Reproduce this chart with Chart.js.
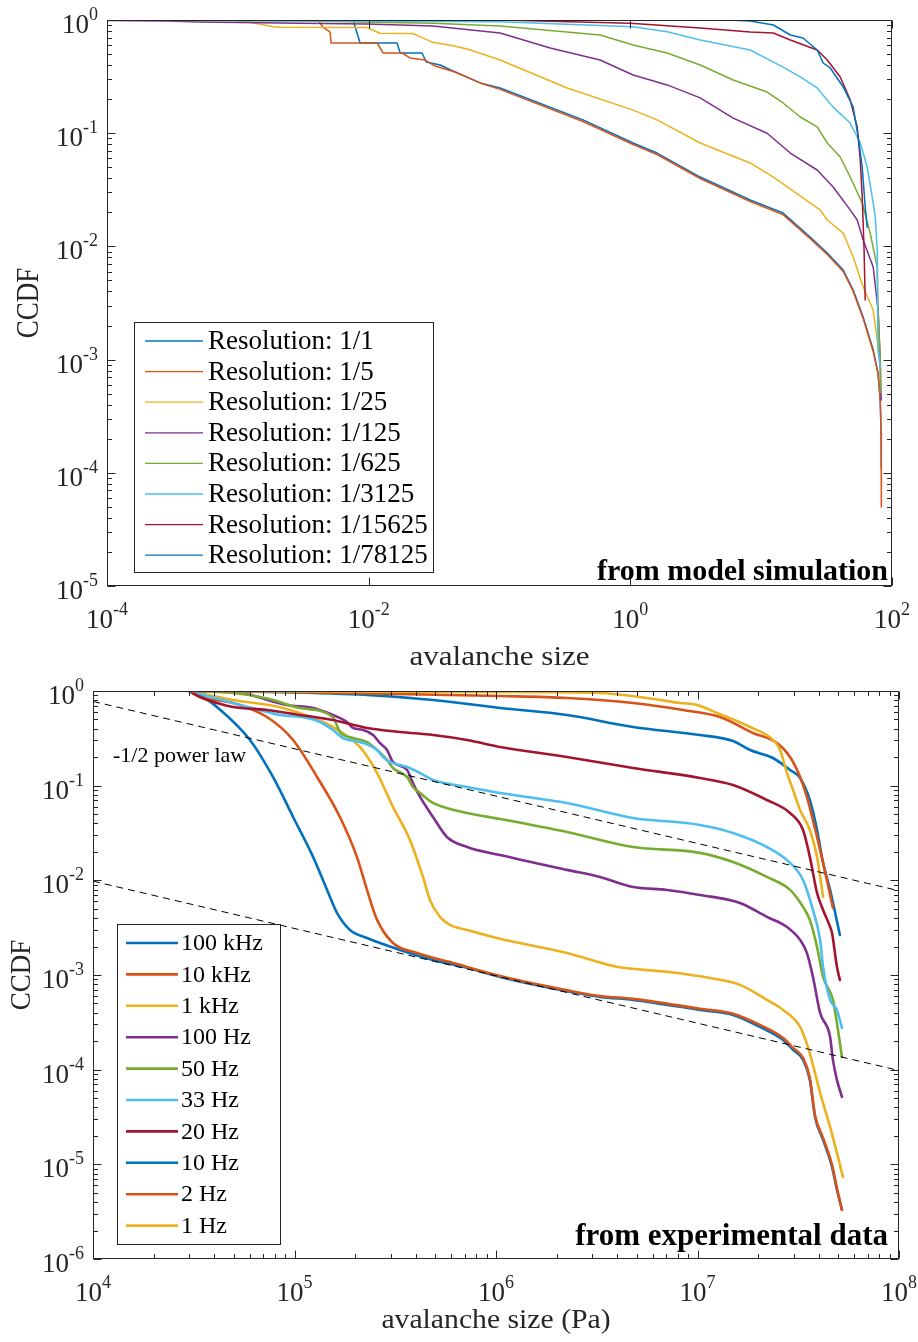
<!DOCTYPE html>
<html>
<head>
<meta charset="utf-8">
<script src="https://cdn.jsdelivr.net/npm/chart.js@4.4.1/dist/chart.umd.min.js"></script>
<style>
  html, body { margin: 0; padding: 0; background: #ffffff; }
  #page { position: relative; width: 918px; height: 1342px; overflow: hidden; }
  .panel { position: absolute; left: 0; }
</style>
</head>
<body>
<div id="page">
  <div class="panel" style="top:0"><canvas id="simChart" width="918" height="670"></canvas></div>
  <div class="panel" style="top:670px"><canvas id="expChart" width="918" height="672"></canvas></div>
</div>
<script>
// ---------- model simulation: CCDF of avalanche size, [size, CCDF] ----------
const simLabels = ['Resolution: 1/1', 'Resolution: 1/5', 'Resolution: 1/25', 'Resolution: 1/125',
                   'Resolution: 1/625', 'Resolution: 1/3125', 'Resolution: 1/15625', 'Resolution: 1/78125'];

const simRes1 = [[1e-4,1],[7.6e-3,1],[8.6e-3,0.627],[0.0165,0.627],[0.0174,0.511],[0.0256,0.511],[0.0275,0.425],
  [0.0352,0.40],[0.0458,0.347],[0.0711,0.278],[0.101,0.251],[0.435,0.131],[1.05,0.0819],[1.60,0.0668],[3.42,0.041],
  [8.24,0.0257],[14.7,0.0197],[23.7,0.0121],[32,8.74e-3],[42.4,6.19e-3],[50.5,4.12e-3],[60.2,2.38e-3],[71.8,1.22e-3],
  [78.3,7.6e-4],[81.3,4.4e-4],[82.6,2.25e-4],[82.8,1.1e-4]];
const simRes5 = [[1e-4,1],[4.1e-3,1],[4.48e-3,0.867],[5.07e-3,0.783],[5.16e-3,0.627],[0.0116,0.627],[0.0129,0.511],
  [0.018,0.511],[0.0207,0.462],[0.027,0.443],[0.0322,0.392],[0.0458,0.347],[0.0711,0.278],[0.101,0.244],[0.435,0.127],
  [1.05,0.0795],[1.60,0.0648],[3.42,0.0398],[8.24,0.0249],[14.7,0.0191],[23.7,0.0117],[32,8.5e-3],[42.4,6.0e-3],
  [50.5,4.0e-3],[60.2,2.3e-3],[71.8,1.18e-3],[78.3,7.4e-4],[81.3,4.3e-4],[82.6,2.2e-4],[82.9,5e-5]];
const simRes25 = [[1e-4,1],[8.7e-4,1],[1.24e-3,0.954],[1.86e-3,0.873],[2.1e-3,0.862],[9.7e-3,0.859],[0.0122,0.763],
  [0.0218,0.76],[0.0256,0.698],[0.031,0.635],[0.0442,0.593],[0.0565,0.554],[0.0711,0.508],[0.101,0.443],[0.329,0.251],
  [1.05,0.160],[1.60,0.131],[3.42,0.0819],[8.24,0.0546],[12.4,0.041],[28.2,0.021],[32,0.0171],[42.4,0.0131],
  [50.5,8.06e-3],[60.2,4.38e-3],[71.8,2.74e-3],[77.1,1.49e-3],[81.3,8.6e-4]];
const simRes125 = [[1e-4,0.99],[2.88e-4,0.98],[5.14e-4,0.96],[2.99e-3,0.935],[9.7e-3,0.922],[0.031,0.885],[0.101,0.768],
  [0.244,0.566],[0.587,0.443],[1.05,0.327],[1.91,0.267],[3.42,0.205],[6.11,0.136],[11.1,0.1],[16.7,0.0668],
  [26.8,0.0473],[35.5,0.0335],[47.9,0.021],[54.2,0.0171],[60.2,0.0114],[71.8,6.58e-3],[78.3,2.74e-3],[81.3,9.9e-4],
  [82.6,4.4e-4]];
const simRes625 = [[1e-4,1],[2.99e-3,0.98],[0.031,0.935],[0.101,0.885],[0.587,0.737],[1.05,0.601],[1.91,0.511],
  [3.42,0.40],[6.11,0.295],[11.1,0.231],[14.7,0.185],[19.9,0.139],[26.8,0.1135],[32,0.0819],[40.2,0.0616],
  [47.9,0.041],[59.2,0.0242],[68.1,0.0131],[77.1,6.58e-3],[78.3,2.74e-3],[81.3,9.9e-4],[81.5,5.07e-4]];
const simRes3125 = [[1e-4,1],[0.101,0.966],[1.05,0.873],[1.91,0.788],[3.42,0.666],[8.24,0.543],[14.7,0.384],
  [19.9,0.314],[26.8,0.251],[35.5,0.170],[47.9,0.123],[57.2,0.0819],[64.6,0.0503],[71.8,0.0242],[74.5,0.0182],
  [77.1,9.3e-3],[77.4,3.36e-3],[78.3,1.22e-3],[81.3,8.6e-4]];
const simRes15625 = [[1e-4,1],[0.101,1],[1.0,0.935],[3.42,0.85],[8.24,0.783],[12.4,0.767],[16.7,0.666],[26.8,0.543],
  [32,0.443],[40.2,0.314],[47.9,0.197],[54.2,0.1135],[57.2,0.058],[59.2,0.0273],[61.2,9.3e-3],[62.4,3.36e-3]];
const simRes78125 = [[1e-4,1],[5.5,1],[8.24,0.98],[12.4,0.903],[16.7,0.737],[20.9,0.693],[26.8,0.543],[29.8,0.417],
  [33.7,0.377],[42.4,0.256],[50.5,0.170],[55.2,0.0925],[59.2,0.0503],[62.4,0.0223],[64.6,0.0148]];

// ---------- experimental data: CCDF of avalanche size (Pa), [size, CCDF] ----------
const expLabels = ['100 kHz', '10 kHz', '1 kHz', '100 Hz', '50 Hz', '33 Hz', '20 Hz', '10 Hz', '2 Hz', '1 Hz'];

const exp100kHz = [[3.0e4,1],[3.4e4,0.907],[4.12e4,0.678],[6.01e4,0.304],[7.82e4,0.1236],[9.84e4,0.0467],
  [1.236e5,0.0177],[1.50e5,6.68e-3],[1.625e5,4.53e-3],[1.885e5,2.99e-3],[2.29e5,2.46e-3],[3.34e5,1.84e-3],
  [4.87e5,1.44e-3],[7.18e5,1.19e-3],[1.047e6,9.55e-4],[1.855e6,7.31e-4],[3.28e6,5.87e-4],[4.79e6,5.46e-4],
  [1.028e7,4.28e-4],[1.50e7,3.79e-4],[2.04e7,2.83e-4],[2.66e7,2.06e-4],[2.98e7,1.62e-4],[3.34e7,1.27e-4],
  [3.61e7,7.8e-5],[3.83e7,3.17e-5],[4.20e7,1.815e-5],[4.65e7,9.41e-6],[4.92e7,5.38e-6],[5.21e7,3.31e-6]];
const exp10kHz = [[3.0e4,1],[3.4e4,0.864],[4.95e4,0.747],[7.30e4,0.531],[9.84e4,0.304],[1.294e5,0.1236],
  [1.68e5,0.0467],[2.04e5,0.0177],[2.29e5,7.92e-3],[2.57e5,3.82e-3],[3.08e5,2.18e-3],[4.05e5,1.71e-3],
  [5.91e5,1.37e-3],[1.047e6,9.78e-4],[1.855e6,7.5e-4],[3.28e6,6.0e-4],[4.79e6,5.6e-4],[1.028e7,4.4e-4],
  [1.50e7,3.9e-4],[2.04e7,2.97e-4],[2.66e7,2.16e-4],[2.98e7,1.7e-4],[3.34e7,1.33e-4],[3.61e7,8.2e-5],
  [3.83e7,3.3e-5],[4.20e7,1.9e-5],[4.65e7,9.9e-6],[4.92e7,5.6e-6],[5.21e7,3.3e-6]];
const exp1kHz = [[3.0e4,1],[4.95e4,0.803],[8.77e4,0.661],[1.55e5,0.417],[2.11e5,0.2564],[2.57e5,0.136],
  [3.08e5,0.0596],[3.74e5,0.0267],[4.34e5,0.01086],[4.70e5,6.21e-3],[5.27e5,4.11e-3],[5.91e5,3.38e-3],
  [7.18e5,2.99e-3],[1.047e6,2.41e-3],[2.25e6,1.71e-3],[3.98e6,1.22e-3],[7.06e6,1.08e-3],[1.153e7,9.31e-4],
  [1.625e7,7.86e-4],[2.21e7,5.46e-4],[2.66e7,4.28e-4],[3.23e7,2.83e-4],[3.53e7,1.74e-4],[3.83e7,9.25e-5],
  [4.06e7,5.69e-5],[4.55e7,2.49e-5],[4.92e7,1.32e-5],[5.27e7,7.38e-6]];
const exp100Hz = [[3.0e4,1],[5.36e4,0.953],[9.18e4,0.711],[1.236e5,0.661],[1.55e5,0.558],[1.82e5,0.471],
  [1.95e5,0.407],[2.19e5,0.388],[2.455e5,0.343],[2.65e5,0.2825],[2.88e5,0.238],[3.08e5,0.178],[3.62e5,0.1465],
  [3.87e5,0.1068],[4.20e5,0.076],[4.87e5,0.0467],[5.71e5,0.0287],[7.18e5,0.0225],[1.047e6,0.0185],
  [2.25e6,0.0129],[3.28e6,0.01086],[4.79e6,8.51e-3],[7.06e6,7.92e-3],[1.028e7,7.01e-3],[1.625e7,5.77e-3],
  [2.21e7,4.11e-3],[2.78e7,3.22e-3],[3.23e7,2.35e-3],[3.49e7,1.71e-3],[3.74e7,9.55e-4],[4.06e7,3.98e-4],
  [4.55e7,2.22e-4],[4.70e7,1.27e-4],[4.92e7,7.8e-5],[5.21e7,5.16e-5]];
const exp50Hz = [[3.0e4,1],[4.95e4,0.953],[6.75e4,0.864],[7.82e4,0.803],[1.064e5,0.661],[1.55e5,0.531],
  [1.68e5,0.369],[1.95e5,0.319],[2.29e5,0.289],[2.57e5,0.238],[2.88e5,0.187],[3.08e5,0.1538],[3.62e5,0.1236],
  [3.87e5,0.0969],[4.20e5,0.0837],[4.87e5,0.0657],[7.18e5,0.0515],[1.047e6,0.0445],[2.25e6,0.0324],
  [4.79e6,0.0225],[1.028e7,0.0195],[1.50e7,0.0156],[2.21e7,0.01086],[2.88e7,7.92e-3],[3.34e7,5.24e-3],
  [3.61e7,3.82e-3],[3.92e7,1.98e-3],[4.20e7,9.55e-4],[4.70e7,5.46e-4],[4.92e7,3.12e-4],[5.21e7,1.36e-4]];
const exp33Hz = [[3.0e4,1],[4.95e4,0.747],[7.30e4,0.600],[8.47e4,0.558],[1.153e5,0.519],[1.338e5,0.471],
  [1.55e5,0.388],[1.74e5,0.319],[2.19e5,0.2825],[2.57e5,0.238],[2.75e5,0.201],[2.98e5,0.178],[3.62e5,0.1576],
  [4.20e5,0.136],[4.87e5,0.115],[7.18e5,0.0969],[1.047e6,0.0837],[2.25e6,0.0657],[4.79e6,0.0456],
  [1.028e7,0.0385],[1.50e7,0.0317],[2.21e7,0.0225],[2.88e7,0.0153],[3.34e7,0.0101],[3.74e7,4.87e-3],
  [4.06e7,2.35e-3],[4.20e7,1.22e-3],[4.55e7,5.46e-4],[4.92e7,4.28e-4],[5.21e7,2.76e-4]];
const exp20Hz = [[3.0e4,1],[3.4e4,0.864],[4.12e4,0.747],[4.95e4,0.678],[7.30e4,0.630],[1.064e5,0.558],
  [1.55e5,0.494],[2.29e5,0.407],[3.34e5,0.369],[4.87e5,0.343],[7.18e5,0.304],[1.047e6,0.2564],[2.25e6,0.201],
  [4.79e6,0.1538],[1.028e7,0.1206],[1.50e7,0.1017],[2.21e7,0.0706],[2.88e7,0.0515],[3.34e7,0.0340],
  [3.61e7,0.0177],[3.92e7,7.36e-3],[4.20e7,4.87e-3],[4.55e7,3.22e-3],[4.65e7,2.79e-3],[4.92e7,1.22e-3],
  [5.09e7,8.87e-4]];
const exp10Hz = [[3.0e4,1],[7.30e4,0.976],[2.29e5,0.907],[4.87e5,0.803],[1.047e6,0.661],[2.25e6,0.558],
  [4.79e6,0.417],[1.028e7,0.343],[1.50e7,0.2965],[1.824e7,0.238],[2.37e7,0.196],[2.88e7,0.1465],[3.23e7,0.1206],
  [3.61e7,0.0706],[3.92e7,0.0340],[4.20e7,0.0153],[4.55e7,7.92e-3],[5.09e7,2.65e-3]];
const exp2Hz = [[3.0e4,1],[7.30e4,0.99],[1.047e6,0.885],[2.25e6,0.844],[4.79e6,0.747],[8.47e6,0.630],
  [1.294e7,0.531],[1.885e7,0.360],[2.48e7,0.2825],[2.88e7,0.201],[3.23e7,0.1236],[3.49e7,0.076],[3.92e7,0.0287],
  [4.20e7,0.0153],[4.70e7,5.11e-3]];
const exp1Hz = [[3.0e4,1],[1.047e6,0.976],[3.28e6,0.953],[5.61e6,0.844],[8.19e6,0.747],[9.95e6,0.711],
  [1.25e7,0.586],[1.824e7,0.417],[2.37e7,0.304],[2.57e7,0.238],[2.78e7,0.136],[2.98e7,0.0901],[3.23e7,0.0554],
  [3.61e7,0.0340],[3.92e7,0.0177],[4.20e7,6.68e-3]];

// -1/2 power-law guide lines, [size, CCDF]
const powerLawUpper = [[1e4,0.776],[1e8,7.76e-3]];
const powerLawLower = [[1e4,0.0098],[1e8,9.8e-5]];

// tick label exponents (labels read 10^n)
const simXTickExp = [-4, -2, 0, 2];
const simYTickExp = [0, -1, -2, -3, -4, -5];
const expXTickExp = [4, 5, 6, 7, 8];
const expYTickExp = [0, -1, -2, -3, -4, -5, -6];

// ---------- styling ----------
const SERIF = '"Liberation Serif", "Times New Roman", Times, serif';
const AXIS_COLOR = '#262626';
const palette = ['#0072BD', '#D95319', '#EDB120', '#7E2F8E', '#77AC30', '#4DBEEE', '#A2142F',
                 '#0072BD', '#D95319', '#EDB120'];

function toXY(pts) { return pts.map(p => ({ x: p[0], y: p[1] })); }

function curveSets(labels, series, width, smooth) {
  return series.map((pts, i) => ({
    label: labels[i],
    data: toXY(pts),
    borderColor: palette[i],
    backgroundColor: palette[i],
    borderWidth: width,
    pointRadius: 0,
    tension: smooth ? 0.4 : 0,
    cubicInterpolationMode: smooth ? 'monotone' : 'default',
    fill: false,
    borderJoinStyle: 'round',
    borderCapStyle: 'round',
    order: 100 - i            // later series are painted on top
  }));
}

function guideSet(pts) {
  return {
    label: '', data: toXY(pts), borderColor: '#000000', borderWidth: 1, borderDash: [7, 5],
    pointRadius: 0, tension: 0, fill: false, order: 0
  };
}

// "10" with a raised exponent
function drawPow(ctx, exp, x, y, align, st) {
  const base = '10', sup = String(exp);
  ctx.font = st.base + 'px ' + SERIF;
  const wb = ctx.measureText(base).width;
  ctx.font = st.sup + 'px ' + SERIF;
  const ws = ctx.measureText(sup).width;
  const total = wb + ws;
  const x0 = align === 'center' ? x - total / 2 : (align === 'right' ? x - total : x);
  ctx.textAlign = 'left';
  ctx.textBaseline = 'alphabetic';
  ctx.font = st.base + 'px ' + SERIF;
  ctx.fillText(base, x0, y);
  ctx.font = st.sup + 'px ' + SERIF;
  ctx.fillText(sup, x0 + wb, y - st.rise);
}

// horizontal text with an optional width stretch
function stretchedText(ctx, text, x, y, font, sx, align) {
  ctx.save();
  ctx.font = font;
  ctx.textAlign = align;
  ctx.textBaseline = 'alphabetic';
  ctx.translate(x, y);
  ctx.scale(sx, 1);
  ctx.fillText(text, 0, 0);
  ctx.restore();
}

function makeFramePlugin(cfg) {
  return {
    id: 'frame_' + cfg.name,
    afterDraw(chart) {
      const { ctx, chartArea: a } = chart;
      const xs = chart.scales.x, ys = chart.scales.y;
      const L = Math.round(a.left) + 0.5, R = Math.round(a.right) - 0.5;
      const T = Math.round(a.top) + 0.5, B = Math.round(a.bottom) - 0.5;
      ctx.save();

      // legend box
      const lg = cfg.legend;
      ctx.fillStyle = '#ffffff';
      ctx.fillRect(lg.x, lg.y, lg.w, lg.h);
      ctx.strokeStyle = AXIS_COLOR;
      ctx.lineWidth = 1;
      ctx.strokeRect(lg.x + 0.5, lg.y + 0.5, lg.w, lg.h);
      ctx.font = lg.font + 'px ' + SERIF;
      ctx.textAlign = 'left';
      ctx.textBaseline = 'middle';
      for (let i = 0; i < lg.count; i++) {
        const ds = chart.data.datasets[i];
        const yy = lg.firstY + i * lg.rowH;
        ctx.strokeStyle = ds.borderColor;
        ctx.lineWidth = lg.lineWidth;
        ctx.beginPath();
        ctx.moveTo(lg.x0, yy);
        ctx.lineTo(lg.x1, yy);
        ctx.stroke();
        ctx.fillStyle = '#000000';
        ctx.fillText(ds.label, lg.textX, yy + 1);
      }

      // ticks (inward, on all four sides)
      ctx.strokeStyle = AXIS_COLOR;
      ctx.lineWidth = 1;
      const MAJ = 8, MIN = 4.5;
      ctx.beginPath();
      const xExp = cfg.xTicks, yExp = cfg.yTicks;
      xExp.forEach(e => {
        const px = Math.round(xs.getPixelForValue(Math.pow(10, e))) + 0.5;
        ctx.moveTo(px, B); ctx.lineTo(px, B - MAJ);
        ctx.moveTo(px, T); ctx.lineTo(px, T + MAJ);
      });
      if (cfg.xMinor) {
        const lo = Math.min(...xExp), hi = Math.max(...xExp);
        for (let e = lo; e < hi; e++) {
          for (let m = 2; m <= 9; m++) {
            const px = Math.round(xs.getPixelForValue(m * Math.pow(10, e))) + 0.5;
            ctx.moveTo(px, B); ctx.lineTo(px, B - MIN);
            ctx.moveTo(px, T); ctx.lineTo(px, T + MIN);
          }
        }
      }
      yExp.forEach(e => {
        const py = Math.round(ys.getPixelForValue(Math.pow(10, e))) + 0.5;
        ctx.moveTo(L, py); ctx.lineTo(L + MAJ, py);
        ctx.moveTo(R, py); ctx.lineTo(R - MAJ, py);
      });
      {
        const lo = Math.min(...yExp), hi = Math.max(...yExp);
        for (let e = lo; e < hi; e++) {
          for (let m = 2; m <= 9; m++) {
            const py = Math.round(ys.getPixelForValue(m * Math.pow(10, e))) + 0.5;
            ctx.moveTo(L, py); ctx.lineTo(L + MIN, py);
            ctx.moveTo(R, py); ctx.lineTo(R - MIN, py);
          }
        }
      }
      ctx.stroke();
      ctx.strokeRect(L, T, R - L, B - T);

      // tick labels
      ctx.fillStyle = AXIS_COLOR;
      const st = { base: 27, sup: 18, rise: 13 };
      xExp.forEach(e => {
        drawPow(ctx, e, xs.getPixelForValue(Math.pow(10, e)), a.bottom + 42, 'center', st);
      });
      yExp.forEach(e => {
        drawPow(ctx, e, a.left - 9, ys.getPixelForValue(Math.pow(10, e)) + 13, 'right', st);
      });

      // axis titles
      stretchedText(ctx, cfg.xTitle, (a.left + a.right) / 2, cfg.xTitleY,
                    cfg.titleFont + 'px ' + SERIF, cfg.titleStretch, 'center');
      ctx.save();
      ctx.font = cfg.titleFont + 'px ' + SERIF;
      ctx.translate(cfg.yTitleX, (a.top + a.bottom) / 2);
      ctx.rotate(-Math.PI / 2);
      ctx.scale(1, cfg.titleStretch);
      ctx.textAlign = 'center';
      ctx.textBaseline = 'middle';
      ctx.fillText('CCDF', 0, 0);
      ctx.restore();

      // panel caption
      ctx.fillStyle = '#000000';
      stretchedText(ctx, cfg.caption.text, cfg.caption.x, cfg.caption.y,
                    'bold ' + cfg.caption.size + 'px ' + SERIF, 1, 'right');

      // extra note
      if (cfg.note) {
        stretchedText(ctx, cfg.note.text, cfg.note.x, cfg.note.y, cfg.note.size + 'px ' + SERIF, 1, 'left');
      }
      ctx.restore();
    }
  };
}

function baseOptions(pad, xr, yr) {
  return {
    responsive: false,
    animation: false,
    devicePixelRatio: 1,
    events: [],
    layout: { padding: pad },
    scales: {
      x: { type: 'logarithmic', min: xr[0], max: xr[1], display: false },
      y: { type: 'logarithmic', min: yr[0], max: yr[1], display: false }
    },
    plugins: { legend: { display: false }, tooltip: { enabled: false } }
  };
}

// ---------- top panel ----------
const simSeries = [simRes1, simRes5, simRes25, simRes125, simRes625, simRes3125, simRes15625, simRes78125];
new Chart(document.getElementById('simChart'), {
  type: 'line',
  data: { datasets: curveSets(simLabels, simSeries, 1.5, false) },
  options: baseOptions({ left: 107, top: 20, right: 26, bottom: 84 }, [1e-4, 1e2], [1e-5, 1]),
  plugins: [makeFramePlugin({
    name: 'sim',
    xTicks: simXTickExp, yTicks: simYTickExp, xMinor: false,
    xTitle: 'avalanche size', xTitleY: 665, yTitleX: 30, titleFont: 27, titleStretch: 1.15,
    legend: { x: 134, y: 322, w: 299, h: 250, count: 8, firstY: 341, rowH: 30.6,
              x0: 145, x1: 203, textX: 208, font: 27, lineWidth: 1.3 },
    caption: { text: 'from model simulation', x: 888, y: 580, size: 30 }
  })]
});

// ---------- bottom panel ----------
const expSeries = [exp100kHz, exp10kHz, exp1kHz, exp100Hz, exp50Hz, exp33Hz, exp20Hz, exp10Hz, exp2Hz, exp1Hz];
new Chart(document.getElementById('expChart'), {
  type: 'line',
  data: { datasets: curveSets(expLabels, expSeries, 2.6, true).concat([guideSet(powerLawUpper), guideSet(powerLawLower)]) },
  options: baseOptions({ left: 93, top: 21, right: 19, bottom: 83 }, [1e4, 1e8], [1e-6, 1]),
  plugins: [makeFramePlugin({
    name: 'exp',
    xTicks: expXTickExp, yTicks: expYTickExp, xMinor: true,
    xTitle: 'avalanche size (Pa)', xTitleY: 658, yTitleX: 22, titleFont: 27, titleStretch: 1.1,
    legend: { x: 117, y: 254, w: 163, h: 320, count: 10, firstY: 273, rowH: 31.4,
              x0: 126, x1: 178, textX: 181, font: 24, lineWidth: 2.6 },
    caption: { text: 'from experimental data', x: 888, y: 575, size: 31 },
    note: { text: '-1/2 power law', x: 113, y: 92, size: 22 }
  })]
});
</script>
</body>
</html>
